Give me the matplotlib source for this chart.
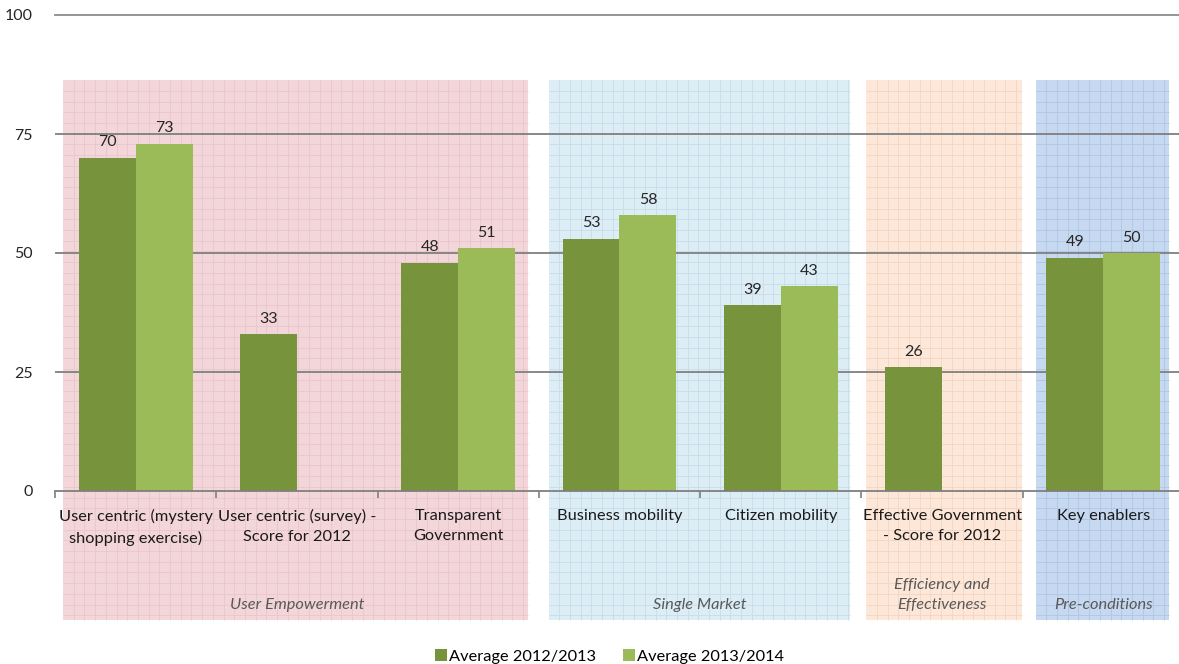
import matplotlib
matplotlib.use("Agg")
import matplotlib.pyplot as plt
import numpy as np
from matplotlib.patches import Rectangle
from matplotlib.collections import LineCollection

plt.rcParams['font.family'] = ['Lato', 'DejaVu Sans']

# data
categories = ["User centric (mystery\nshopping exercise)", "User centric (survey) -\nScore for 2012",
              "Transparent\nGovernment", "Business mobility", "Citizen mobility",
              "Effective Government\n- Score for 2012", "Key enablers"]
avg_2012_2013 = [70, 33, 48, 53, 39, 26, 49]
avg_2013_2014 = [73, None, 51, 58, 43, None, 50]
series_names = ["Average 2012/2013", "Average 2013/2014"]

groups = ["User Empowerment", "Single Market", "Efficiency and\nEffectiveness", "Pre-conditions"]
group_span = [(0, 2), (3, 4), (5, 5), (6, 6)]  # first/last category index
group_bg = ["#f3d6da", "#dcedf5", "#fde7d9", "#c7d9f0"]
group_grid = ["#eac6cb", "#c8dde9", "#f4d5c3", "#aec6e3"]

dark = "#77933c"
light = "#9bbb59"

fig = plt.figure(figsize=(11.79, 6.64), dpi=100)
ax = fig.add_axes([55 / 1179, 173 / 664, 1129 / 1179, 476 / 664])
ax.set_xlim(-0.5, 6.5)
ax.set_ylim(0, 100)

x = np.arange(len(categories))
w = 0.353

# background panels with graph-paper grid
ppx = 161.3   # pixels per category
ppy = 4.76    # pixels per unit
y_top, y_bot = 86.3, -27.1
for (a, b), bg, gc in zip(group_span, group_bg, group_grid):
    x0 = a - 0.45 if a == 0 else a - 0.42
    x1 = b + 0.43 if b < 6 else b + 0.41
    if a == 5:
        x0, x1 = a - 0.47, b + 0.495
    if a == 3:
        x0 = a - 0.44
    ax.add_patch(Rectangle((x0, y_bot), x1 - x0, y_top - y_bot, facecolor=bg,
                           edgecolor='none', zorder=0, clip_on=False))
    segs = []
    step_x = 10.7 / ppx
    xv = x0 + step_x
    while xv < x1:
        segs.append([(xv, y_bot), (xv, y_top)])
        xv += step_x
    step_y = 10.7 / ppy
    yv = y_top - step_y
    while yv > y_bot:
        segs.append([(x0, yv), (x1, yv)])
        yv -= step_y
    ax.add_collection(LineCollection(segs, colors=gc, linewidths=0.6, zorder=0.5,
                                     clip_on=False))

# gridlines
for gy in [25, 50, 75]:
    ax.axhline(gy, color="#7f7f7f", lw=1.3, zorder=1)
ax.plot([-0.5, 7.0], [100, 100], color="#8c8c8c", lw=1.3, zorder=1, clip_on=False)

# bars
v1 = np.array(avg_2012_2013, dtype=float)
v2 = np.array([np.nan if v is None else v for v in avg_2013_2014], dtype=float)
b1 = ax.bar(x - w / 2, v1, w, color=dark, zorder=2, label=series_names[0])
b2 = ax.bar(x + w / 2, np.nan_to_num(v2), w, color=light, zorder=2, label=series_names[1])

for xi, v in zip(x, v1):
    ax.annotate(f"{int(v)}", (xi - w / 2, v), xytext=(0, 6), textcoords="offset points",
                ha="center", va="bottom", fontsize=11.5, color="#262626")
for xi, v in zip(x, v2):
    if not np.isnan(v):
        ax.annotate(f"{int(v)}", (xi + w / 2, v), xytext=(0, 6), textcoords="offset points",
                    ha="center", va="bottom", fontsize=11.5, color="#262626")

# axes styling
for s in ["top", "right", "left"]:
    ax.spines[s].set_visible(False)
ax.spines["bottom"].set_color("#7f7f7f")
ax.spines["bottom"].set_linewidth(1.3)
ax.spines["bottom"].set_zorder(3)
ax.set_yticks([0, 25, 50, 75, 100])
ax.tick_params(axis="y", length=0, pad=16, labelsize=11.5, labelcolor="#262626")
ax.set_xticks(np.arange(-0.5, 7.0, 1.0))
ax.set_xticklabels([])
ax.tick_params(axis="x", length=5, width=1.2, color="#7f7f7f", direction="out")

for xi, lab in zip(x, categories):
    ax.text(xi, -3.8, lab, ha="center", va="top", fontsize=11.8, color="#1a1a1a",
            linespacing=1.55)

for (a, b), g in zip(group_span, groups):
    gx = (a + b) / 2
    if a == 3:
        gx = 3.5
    ax.text(gx, -25.5, g, ha="center", va="bottom", fontsize=11.8, color="#595959",
            style="italic", linespacing=1.6)

fig.legend(handles=[b1, b2], labels=series_names, loc="lower center",
           bbox_to_anchor=(0.517, -0.022), ncol=2, frameon=False, fontsize=11.8,
           handlelength=0.75, handleheight=0.75, handletextpad=0.15, columnspacing=1.6)

fig.savefig("out.png", dpi=100)
